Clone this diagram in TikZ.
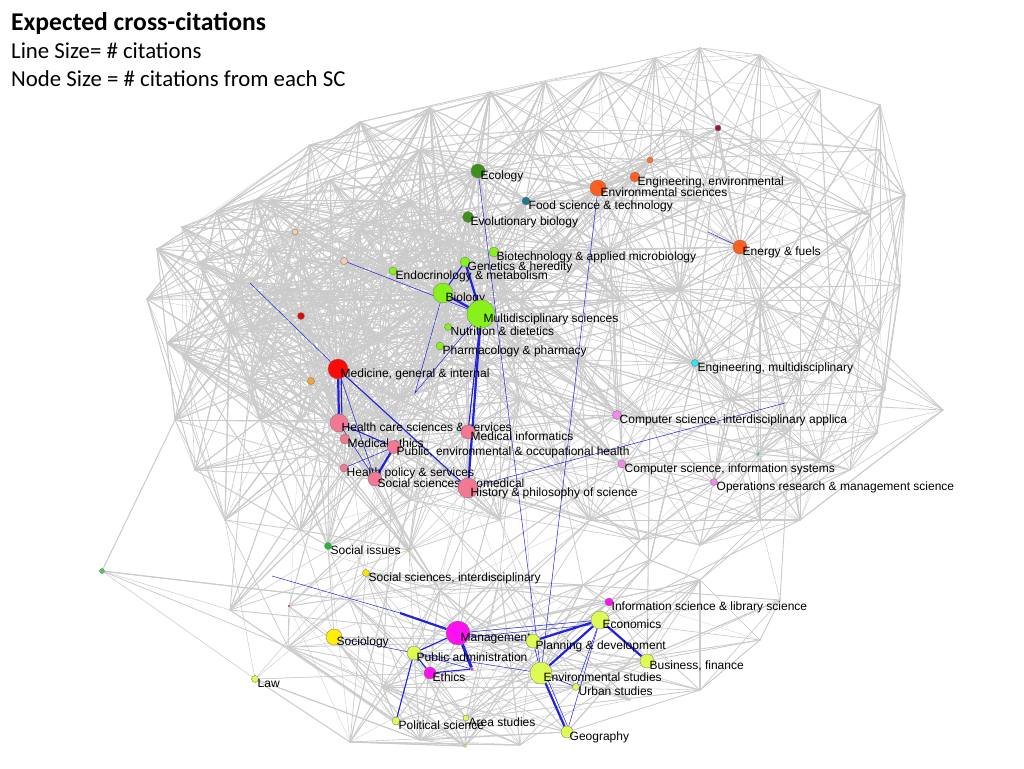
\documentclass[tikz,border=0pt]{standalone}
\usepackage{fontspec}
\setmainfont{Liberation Sans}
\newfontfamily\titlefont{Carlito}
\usetikzlibrary{calc}
\pgfdeclarelayer{web}
\pgfdeclarelayer{edges}
\pgfsetlayers{web,edges,main}
\definecolor{lgreen}{HTML}{88F01A}
\definecolor{dgreen}{HTML}{3F8F1F}
\definecolor{tealc}{HTML}{1B7A8C}
\definecolor{orng}{HTML}{FF5E1E}
\definecolor{drd}{HTML}{A3122E}
\definecolor{rd}{HTML}{FF0808}
\definecolor{amber}{HTML}{F5A535}
\definecolor{peach}{HTML}{F9CBAE}
\definecolor{cyn}{HTML}{30E5EE}
\definecolor{vio}{HTML}{F08AEE}
\definecolor{pnk}{HTML}{F27893}
\definecolor{grn}{HTML}{22BB33}
\definecolor{yel}{HTML}{FFEE00}
\definecolor{ygr}{HTML}{DDFA55}
\definecolor{mag}{HTML}{FF10F0}
\definecolor{webgray}{HTML}{CBCBCB}
\definecolor{edgeblue}{HTML}{2222DD}
\newcommand\scn[6]{%
  \node[dot,minimum size=#4pt,fill=#5] (#1) at (#2,#3) {};
  \node[lab] (#1l) at ([xshift=2.5pt,yshift=-8.5pt]#1.center) {#6};}
\newcommand\dotn[5]{\node[dot,minimum size=#4pt,fill=#5] (#1) at (#2,#3) {};}
\begin{document}
\begin{tikzpicture}[x=1pt,y=-1pt,
  dot/.style={circle,draw=black!55,line width=0.3pt,inner sep=0pt},
  lab/.style={anchor=base west,font=\fontsize{12}{12}\selectfont,inner sep=0pt,text=black},
  webline/.style={draw=webgray,line cap=round},
  be/.style={draw=edgeblue,line width=0.5pt},
  bm/.style={draw=edgeblue,line width=1.1pt},
  bt/.style={draw=edgeblue,line width=2.2pt},
  bx/.style={draw=edgeblue,line width=3pt}]
\useasboundingbox (0,0) rectangle (1024,768);
% ---------- title ----------
\node[anchor=base west,inner sep=0pt,font=\titlefont\bfseries\fontsize{25.6}{30}\selectfont] (title) at (11,31) {Expected cross-citations};
\node[anchor=base west,inner sep=0pt,font=\titlefont\fontsize{22.8}{26}\selectfont] (sub1) at (11,59) {Line Size= \# citations};
\node[anchor=base west,inner sep=0pt,font=\titlefont\fontsize{22.8}{26}\selectfont] (sub2) at (11,86) {Node Size = \# citations from each SC};
% ---------- hub points of the grey web ----------
\def\hubs{478/171,468/217,526/201,598/188,635/177,650/160,718/128,740/247,494/252,465/262,393/271,443/293,481/314,448/327,440/346,338/369,311/381,301/316,295/232,344/261,695/363,617/415,622/464,714/482,758/454,339/423,345/439,394/447,468/432,344/468,375/479,468/488,328/546,409/550,102/571,366/573,289/606,609/602,600/620,334/637,458/633,533/641,414/653,647/661,430/673,541/673,576/687,255/679,396/721,466/718,567/732,465/746,
310/145,360/122,430/108,490/92,545/82,600/72,655/58,700/48,760/55,820/90,880/105,880/150,905/195,870/215,850/250,900/285,880/330,860/345,885/390,943/410,877/433,850/470,800/520,760/520,700/545,640/540,590/520,
255/200,217/211,182/227,157/249,200/262,240/282,147/299,167/343,183/357,175/420,195/470,225/520,300/530,
250/330,280/290,380/200,420/150,540/130,560/250,620/300,680/290,760/300,800/180,700/200,580/360,650/420,730/400,800/380,820/460,560/470,520/400,400/400,260/420,410/500,500/520,
330/180,270/250,230/330,360/320,300/420,420/230,520/300,610/250,680/130,760/140,830/300,790/430,
230/300,260/360,330/300,380/340,360/230,410/200,450/240,500/280,300/260,270/200,390/420,250/380,520/350,430/380,480/370,
443/293,481/314,338/369,339/423,478/171,598/188,443/293,481/314,338/369,740/247,695/363,
583/585,500/575,440/590,350/600,288/647,230/610,350/742,382/687,630/700,700/690,760/640,780/600,700/580,650/560,420/740,520/745}
\foreach \x/\y [count=\i] in \hubs {\coordinate (h\i) at (\x,\y); \xdef\NH{\i}}
\begin{pgfonlayer}{web}
\pgfmathsetseed{4242}
\foreach \k in {1,...,8500}{
  \pgfmathtruncatemacro\a{random(1,\NH)}
  \pgfmathtruncatemacro\b{random(1,\NH)}
  \pgfpointanchor{h\a}{center}\pgfgetlastxy\xa\ya
  \pgfpointanchor{h\b}{center}\pgfgetlastxy\xb\yb
  \pgfmathsetmacro\d{veclen(\xb-\xa,\yb-\ya)}
  \pgfmathsetmacro\w{0.25+0.9*rnd}
  \pgfmathsetmacro\crs{(((\ya+555)/100)*((\yb+555)/100)<0)*(rnd>0.3)}
  \pgfmathsetmacro\ok{(\d<250)*(1-\crs)}
  \ifdim\ok pt>0.5pt \draw[webline,line width=\w pt] (h\a) -- (h\b);\fi
}
\end{pgfonlayer}
% ---------- nodes ----------
\scn{eco}{478}{171}{14}{dgreen}{Ecology}
\scn{evo}{468}{217}{11}{dgreen}{Evolutionary biology}
\scn{food}{526}{201}{8}{tealc}{Food science \& technology}
\scn{envsci}{598}{188}{16}{orng}{Environmental sciences}
\scn{engenv}{635}{177}{10}{orng}{Engineering, environmental}
\dotn{or1}{650}{160}{6}{orng!85!yellow}
\dotn{dr1}{718}{128}{6}{drd}
\scn{energy}{740}{247}{14}{orng}{Energy \& fuels}
\scn{biotech}{494}{252}{10}{lgreen}{Biotechnology \& applied microbiology}
\scn{gen}{465}{262}{10}{lgreen}{Genetics \& heredity}
\scn{endo}{393}{271}{8}{lgreen}{Endocrinology \& metabolism}
\scn{bio}{443}{293}{20}{lgreen}{Biology}
\scn{multi}{481}{314}{28}{lgreen}{Multidisciplinary sciences}
\scn{nutr}{448}{327}{7}{lgreen}{Nutrition \& dietetics}
\scn{pharm}{440}{346}{8}{lgreen}{Pharmacology \& pharmacy}
\scn{med}{338}{369}{20}{rd}{Medicine, general \& internal}
\dotn{am1}{311}{381}{7}{amber}
\dotn{rd1}{301}{316}{7}{rd!90!black}
\dotn{pe1}{295}{232}{6}{peach}
\dotn{pe2}{344}{261}{7}{peach}
\scn{engm}{695}{363}{7}{cyn}{Engineering, multidisciplinary}
\scn{csia}{617}{415}{9}{vio}{Computer science, interdisciplinary applica}
\scn{csis}{622}{464}{8}{vio}{Computer science, information systems}
\scn{opr}{714}{482}{7}{vio}{Operations research \& management science}
\dotn{cy1}{758}{454}{3}{cyn}
\scn{hcs}{339}{423}{18}{pnk}{Health care sciences \& services}
\scn{meth}{345}{439}{10}{pnk}{Medical ethics}
\scn{pub}{394}{447}{13}{pnk}{Public, environmental \& occupational health}
\scn{minf}{468}{432}{14}{pnk}{Medical informatics}
\scn{hps}{344}{468}{8}{pnk}{Health policy \& services}
\scn{ssb}{375}{479}{14}{pnk}{Social sciences, biomedical}
\scn{hist}{468}{488}{20}{pnk}{History \& philosophy of science}
\scn{sissue}{328}{546}{7}{grn}{Social issues}
\dotn{ty1}{409}{550}{3}{ygr}
\dotn{gl1}{102}{571}{5}{grn!80!white}
\scn{ssi}{366}{573}{7}{yel!90!orange}{Social sciences, interdisciplinary}
\dotn{tp1}{289}{606}{2}{mag}
\scn{infs}{609}{602}{8}{mag}{Information science \& library science}
\scn{econ}{600}{620}{18}{ygr}{Economics}
\scn{soc}{334}{637}{16}{yel}{Sociology}
\scn{mgmt}{458}{633}{24}{mag}{Management}
\scn{plan}{533}{641}{14}{ygr}{Planning \& development}
\scn{padm}{414}{653}{14}{ygr}{Public administration}
\scn{bfin}{647}{661}{14}{ygr}{Business, finance}
\scn{eth}{430}{673}{12}{mag}{Ethics}
\scn{envst}{541}{673}{22}{ygr}{Environmental studies}
\scn{urb}{576}{687}{7}{ygr}{Urban studies}
\scn{law}{255}{679}{7}{ygr}{Law}
\scn{pol}{396}{721}{8}{ygr}{Political science}
\scn{area}{466}{718}{6}{ygr}{Area studies}
\scn{geo}{567}{732}{12}{ygr}{Geography}
\dotn{ty2}{465}{746}{3}{ygr}
\dotn{tp2}{472}{669}{3}{mag}
% free ends of blue connectors
\coordinate (c1) at (400,613);
\coordinate (c2) at (272,576);
\coordinate (c3) at (415,393);
\coordinate (c4) at (250,283);
\coordinate (c5) at (708,232);
\coordinate (c6) at (785,403);
% ---------- blue connectors ----------
\begin{pgfonlayer}{edges}
\draw[be] (eco) -- (envst);
\draw[be] (envsci) -- (envst);
\draw[be] (pe2) -- (multi);
\draw[be] (bio) -- (c3) -- (multi);
\draw[be] (med) -- (c4);
\draw[be] (energy) -- (c5);
\draw[be] (hist) -- (c6);
\draw[be] (med) -- (ssb);
\draw[be] (hps) -- (pub);
\draw[be] (hcs) -- (ssb);
\draw[bt] (med) -- (hcs);
\draw[bm] ([xshift=3pt]med.center) -- ([xshift=3pt]hcs.center);
\draw[bm] (med) -- (hist);
\draw[bm] (hcs) -- (pub);
\draw[bt] (pub) -- (ssb);
\draw[bt] (multi) -- (hist);
\draw[bm] (multi) -- (minf);
\draw[bt] (bio) -- (multi);
\draw[bt] (gen) -- (multi);
\draw[bm] (bio) -- (gen);
\draw[bt] (mgmt) -- (c1);
\draw[be] (c1) -- (c2);
\draw[bx] (mgmt) -- (tp2);
\draw[bm] (tp2) -- (eth);
\draw[be] (padm) -- (tp2);
\draw[be] (mgmt) -- (econ);
\draw[be] ([yshift=-5pt]mgmt.center) -- ([yshift=-4pt]econ.center);
\draw[be] (mgmt) -- (plan);
\draw[be] (soc) -- (padm);
\draw[bm] (padm) -- (mgmt);
\draw[be] (padm) -- (envst);
\draw[bm] (padm) -- (eth);
\draw[bm] (padm) -- (pol);
\draw[bt] (plan) -- (econ);
\draw[bt] (envst) -- (econ);
\draw[bt] (econ) -- (bfin);
\draw[bt] (envst) -- (geo);
\draw[be] ([xshift=4pt]envst.center) -- ([xshift=3pt]geo.center);
\draw[be] (envst) -- (urb);
\draw[be] (econ) -- (urb);
\draw[be] (geo) -- (econ);
\draw[be] (plan) -- (envst);
\end{pgfonlayer}
\end{tikzpicture}
\end{document}
